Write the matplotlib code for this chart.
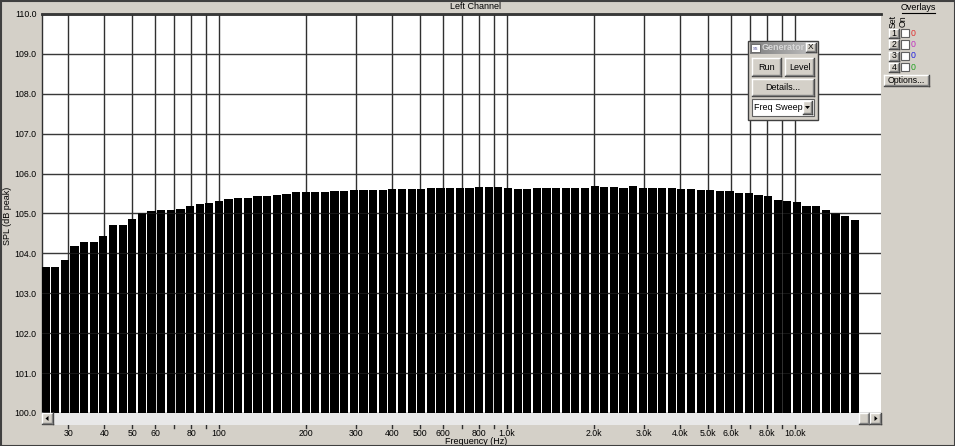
import numpy as np
import matplotlib
matplotlib.use("Agg")
import matplotlib.pyplot as plt
from matplotlib.patches import Rectangle, Polygon
from matplotlib.lines import Line2D
from matplotlib.transforms import blended_transform_factory

plt.rcParams['font.family'] = ['Liberation Sans', 'DejaVu Sans']

# ---------------- data ----------------
freqs = [25.0, 27.0, 29.16, 31.5, 34.02, 36.74, 39.69, 42.86, 46.3,
         50.0, 54.0, 58.3, 63.0, 68.0, 73.5, 79.4, 85.7, 92.6,
         100, 108, 116.6, 126.0, 136.1, 147.0, 158.7, 171.5, 185.2,
         200, 216, 233.3, 252, 272.2, 293.9, 317.5, 342.9, 370.4,
         400, 432, 466.6, 504, 544.3, 587.9, 635, 685.8, 740.7,
         800, 864, 933.2, 1008, 1089, 1176, 1270, 1372, 1481,
         1600, 1728, 1866, 2016, 2177, 2352, 2540, 2743, 2963,
         3200, 3456, 3733, 4032, 4354, 4703, 5080, 5486, 5925,
         6400, 6912, 7465, 8063, 8709, 9406, 10159, 10972, 11850,
         12800, 13824, 14930, 16126]
spl = [103.65, 103.65, 103.84, 104.18, 104.28, 104.28, 104.44, 104.72, 104.70,
       104.85, 105.00, 105.06, 105.08, 105.08, 105.11, 105.20, 105.24, 105.27,
       105.31, 105.36, 105.38, 105.40, 105.43, 105.43, 105.46, 105.49, 105.53,
       105.54, 105.54, 105.54, 105.56, 105.57, 105.59, 105.59, 105.59, 105.59,
       105.61, 105.61, 105.61, 105.62, 105.65, 105.65, 105.65, 105.65, 105.65,
       105.67, 105.67, 105.67, 105.63, 105.62, 105.62, 105.63, 105.63, 105.63,
       105.63, 105.65, 105.65, 105.70, 105.67, 105.67, 105.65, 105.68, 105.65,
       105.65, 105.65, 105.65, 105.62, 105.61, 105.59, 105.59, 105.56, 105.56,
       105.52, 105.51, 105.47, 105.45, 105.35, 105.32, 105.28, 105.18, 105.18,
       105.08, 105.02, 104.93, 104.83]
grid_freqs = [30, 40, 50, 60, 70, 80, 90, 100, 200, 300, 400, 500, 600, 700,
              800, 900, 1000, 2000, 3000, 4000, 5000, 6000, 7000, 8000, 9000, 10000]
label_freqs = [30, 40, 50, 60, 80, 100, 200, 300, 400, 500, 600, 800,
               1000, 2000, 3000, 4000, 5000, 6000, 8000, 10000]
label_texts = ["30", "40", "50", "60", "80", "100", "200", "300", "400", "500",
               "600", "800", "1.0k", "2.0k", "3.0k", "4.0k", "5.0k", "6.0k",
               "8.0k", "10.0k"]
y_ticks = [100, 101, 102, 103, 104, 105, 106, 107, 108, 109, 110]
overlay_colors = ["#e03030", "#c030c0", "#2020e0", "#20a020"]

# ---------------- figure ----------------
W, H = 955, 446
BG = "#d4d0c8"
fig = plt.figure(figsize=(W / 100, H / 100), dpi=100, facecolor=BG)

def fx(x):
    return x / W

def fy(y):
    return 1 - y / H

def rect(x0, y0, x1, y1, fc, ec="none", lw=0, z=10):
    r = Rectangle((fx(x0), fy(y1)), (x1 - x0) / W, (y1 - y0) / H,
                  transform=fig.transFigure, facecolor=fc, edgecolor=ec,
                  linewidth=lw, zorder=z)
    fig.add_artist(r)
    return r

def line(x0, y0, x1, y1, c, lw=1.0, z=11):
    fig.add_artist(Line2D([fx(x0), fx(x1)], [fy(y0), fy(y1)],
                          transform=fig.transFigure, color=c, linewidth=lw,
                          zorder=z))

def button(x0, y0, x1, y1, text=None, fs=6.5, z=20):
    rect(x0, y0, x1, y1, BG, z=z)
    line(x0, y0, x1, y0, "white", 1.0, z + 1)
    line(x0, y0, x0, y1, "white", 1.0, z + 1)
    line(x0, y1, x1, y1, "#404040", 1.0, z + 1)
    line(x1, y0, x1, y1, "#404040", 1.0, z + 1)
    line(x0 + 1, y1 - 1, x1 - 1, y1 - 1, "#808080", 1.0, z + 1)
    line(x1 - 1, y0 + 1, x1 - 1, y1 - 1, "#808080", 1.0, z + 1)
    if text:
        fig.text(fx((x0 + x1) / 2), fy((y0 + y1) / 2), text, ha="center",
                 va="center", fontsize=fs, color="black", zorder=z + 2)

# plot area
L, R, T, B = 42, 881, 14, 413
ax = fig.add_axes([fx(L), fy(B), (R - L) / W, (B - T) / H])
ax.set_facecolor("white")
ax.set_xscale("log")
ax.set_xlim(24.3, 19890)
ax.set_ylim(100, 110)

# bars (log-width)
fr = np.array(freqs, dtype=float)
w = 0.0285
lefts = fr * 10 ** (-w / 2)
widths = fr * (10 ** (w / 2) - 10 ** (-w / 2))
ax.bar(lefts, np.array(spl) - 100, bottom=100, width=widths, align="edge",
       color="black", edgecolor="none", zorder=3)

# grid
for g in grid_freqs:
    ax.axvline(g, color="#303030", linewidth=1.0, zorder=2)
for yv in y_ticks:
    ax.axhline(yv, color="#303030", linewidth=1.0, zorder=2)
    ax.axhline(yv, color="#505050", linewidth=0.6, zorder=4, alpha=0.35)

ax.set_yticks(y_ticks)
ax.set_yticklabels([f"{v:.1f}" for v in y_ticks])
ax.tick_params(axis="y", length=0, pad=4, labelsize=6.3, colors="black")
ax.set_xticks([])
ax.minorticks_off()
ax.xaxis.set_minor_locator(matplotlib.ticker.NullLocator())
for s in ["left", "bottom", "right"]:
    ax.spines[s].set_visible(False)
ax.spines["top"].set_color("#303030")
ax.spines["top"].set_linewidth(2.0)
ax.spines["left"].set_visible(True)
ax.spines["left"].set_color("#303030")
ax.spines["left"].set_linewidth(1.0)

# x tick marks and labels (below scrollbar)
trans = blended_transform_factory(ax.transData, ax.transAxes)
for g in grid_freqs:
    ax.add_line(Line2D([g, g], [-0.030, -0.037], transform=trans,
                       color="#303030", linewidth=1.0, clip_on=False))
for g, t in zip(label_freqs, label_texts):
    ax.text(g, -0.051, t, transform=trans, ha="center", va="center",
            fontsize=6.3, color="black", clip_on=False)

fig.text(fx(476), fy(441), "Frequency (Hz)", ha="center", va="center",
         fontsize=6.5, color="black")
fig.text(fx(475), fy(6.5), "Left Channel", ha="center", va="center",
         fontsize=6.5, color="black")
fig.text(fx(8), fy(216), "SPL (dB peak)", ha="center", va="center",
         rotation=90, fontsize=6.5, color="black")

# scrollbar
rect(L, 413, R, 425, "#e8e8e8", z=5)
button(L, 413, L + 11, 424, z=6)
fig.add_artist(Polygon([[fx(L + 3.5), fy(418.5)], [fx(L + 6.5), fy(416)],
                        [fx(L + 6.5), fy(421)]], closed=True,
                       transform=fig.transFigure, facecolor="black",
                       edgecolor="none", zorder=9))
button(R - 22, 413, R - 12, 424, z=6)
button(R - 11, 413, R, 424, z=6)
fig.add_artist(Polygon([[fx(R - 3.5), fy(418.5)], [fx(R - 6.5), fy(416)],
                        [fx(R - 6.5), fy(421)]], closed=True,
                       transform=fig.transFigure, facecolor="black",
                       edgecolor="none", zorder=9))

# outer window frame
rect(0.5, 0.5, W - 0.5, H - 0.5, "none", ec="#404040", lw=1.5, z=30)

# overlays panel
t = fig.text(fx(918), fy(8), "Overlays", ha="center", va="center",
             fontsize=6.5, color="black")
line(902, 12.5, 935, 12.5, "black", 0.8)
fig.text(fx(893), fy(21), "Set", ha="center", va="center", rotation=90,
         fontsize=6.3, color="black")
fig.text(fx(903.5), fy(21), "On", ha="center", va="center", rotation=90,
         fontsize=6.3, color="black")
rows_y = [33, 44.5, 56, 67]
for i, (yy, c) in enumerate(zip(rows_y, overlay_colors)):
    button(889, yy - 4.5, 899, yy + 4.5, str(i + 1), fs=6.3)
    rect(901, yy - 4, 909, yy + 4, "white", ec="#606060", lw=0.8, z=20)
    fig.text(fx(913.5), fy(yy), "0", ha="center", va="center", fontsize=6.3,
             color=c)
button(884, 75, 929, 86, "Options...", fs=6.3)

# generator window
rect(748, 41, 818, 120, BG, ec="#404040", lw=1.0, z=18)
# title bar gradient
grad = np.linspace(0, 1, 64).reshape(1, -1)
gax = fig.add_axes([fx(750), fy(54), (816 - 750) / W, 12 / H], zorder=25)
gax.imshow(grad, aspect="auto", cmap=matplotlib.colors.LinearSegmentedColormap.from_list(
    "g", ["#808080", "#c0c0c0"]), extent=[0, 1, 0, 1])
gax.set_axis_off()
fig.text(fx(762), fy(48), "Generator", ha="left", va="center", fontsize=6.5,
         color="#d8d8d8", fontweight="bold", zorder=40)
rect(751, 44, 760, 52, "white", ec="#606060", lw=0.6, z=40)
fig.text(fx(755.5), fy(48), "ss", ha="center", va="center", fontsize=4,
         color="#6060a0", zorder=41)
button(806, 43, 816, 52, "X", fs=6, z=41)
button(752, 58, 781, 76, "Run", fs=6.5, z=30)
button(785, 58, 814, 76, "Level", fs=6.5, z=30)
button(752, 79, 814, 96, "Details...", fs=6.5, z=30)
rect(752, 99, 814, 116, "white", ec="#606060", lw=0.8, z=30)
fig.text(fx(754), fy(107.5), "Freq Sweep", ha="left", va="center",
         fontsize=6.5, color="black", zorder=33)
button(803, 101, 812, 114, z=31)
fig.add_artist(Polygon([[fx(805), fy(106)], [fx(810), fy(106)],
                        [fx(807.5), fy(109)]], closed=True,
                       transform=fig.transFigure, facecolor="black",
                       edgecolor="none", zorder=40))

fig.savefig("out.png", dpi=100, facecolor=BG)
